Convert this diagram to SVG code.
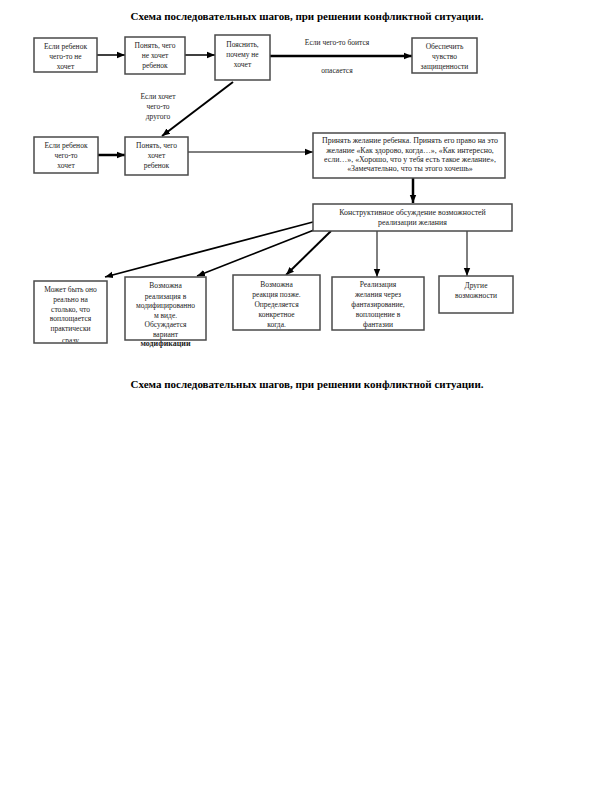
<svg xmlns="http://www.w3.org/2000/svg" width="612" height="792" viewBox="0 0 612 792">
<style>
.box{fill:#fff;stroke:#4a4a4a;stroke-width:1.5}
.t{font-family:"Liberation Serif","Times New Roman",serif;font-size:7.5px;fill:#222;text-anchor:middle}
.w{font-size:7.9px}
.title{font-family:"Liberation Serif","Times New Roman",serif;font-size:11px;font-weight:bold;fill:#000;text-anchor:middle}
.c{stroke:#000;fill:none}
</style>
<defs>
<marker id="ah" markerUnits="userSpaceOnUse" markerWidth="8" markerHeight="8" viewBox="0 0 8 8" refX="8" refY="4" orient="auto">
<path d="M0,0.8 L8,4 L0,7.2 Z" fill="#000"/>
</marker>
<clipPath id="cb1"><rect x="34" y="281" width="73" height="61"/></clipPath>
</defs>
<rect width="612" height="792" fill="#fff"/>
<text class="title" x="307" y="20">Схема последовательных  шагов, при решении конфликтной ситуации.</text>
<text class="title" x="307" y="388">Схема последовательных  шагов, при решении конфликтной ситуации.</text>

<g id="connectors">
<line class="c" x1="97" y1="55" x2="125" y2="55" stroke-width="1.5" marker-end="url(#ah)"/>
<line class="c" x1="185" y1="55" x2="215" y2="55" stroke-width="1.5" marker-end="url(#ah)"/>
<line class="c" x1="270" y1="56" x2="412" y2="56" stroke-width="2.5" marker-end="url(#ah)"/>
<line class="c" x1="233" y1="82" x2="162" y2="136" stroke-width="2" marker-end="url(#ah)"/>
<line class="c" x1="98" y1="155" x2="125" y2="155" stroke-width="2.5" marker-end="url(#ah)"/>
<line class="c" x1="188" y1="152" x2="313" y2="152" stroke-width="1" marker-end="url(#ah)"/>
<line class="c" x1="413" y1="178" x2="413" y2="203" stroke-width="2.5" marker-end="url(#ah)"/>
<line class="c" x1="313" y1="222" x2="105" y2="277" stroke-width="1.8" marker-end="url(#ah)"/>
<line class="c" x1="314" y1="230" x2="197" y2="276" stroke-width="1.6" marker-end="url(#ah)"/>
<line class="c" x1="331" y1="231" x2="286" y2="275" stroke-width="2" marker-end="url(#ah)"/>
<line class="c" x1="377" y1="231" x2="377" y2="277" stroke-width="1" marker-end="url(#ah)"/>
<line class="c" x1="467" y1="231" x2="467" y2="276" stroke-width="1" marker-end="url(#ah)"/>
<text class="t" x="337" y="45">Если чего-то боится</text>
<text class="t" x="337" y="73">опасается</text>
<text class="t" x="158" y="99">Если хочет</text>
<text class="t" x="158" y="109">чего-то</text>
<text class="t" x="158" y="119">другого</text>
</g>

<g id="n1"><rect class="box" x="34" y="38" width="63" height="34"/>
<text class="t" x="65.5" y="49">Если ребенок</text><text class="t" x="65.5" y="59">чего-то не</text><text class="t" x="65.5" y="69">хочет</text></g>
<g id="n2"><rect class="box" x="125" y="37" width="60" height="37"/>
<text class="t" x="155" y="48">Понять, чего</text><text class="t" x="155" y="58">не хочет</text><text class="t" x="155" y="68">ребенок</text></g>
<g id="n3"><rect class="box" x="215" y="35" width="55" height="45"/>
<text class="t" x="242.5" y="47">Пояснить,</text><text class="t" x="242.5" y="57">почему не</text><text class="t" x="242.5" y="67">хочет</text></g>
<g id="n4"><rect class="box" x="412" y="38" width="65" height="35"/>
<text class="t" x="444.5" y="49">Обеспечить</text><text class="t" x="444.5" y="59">чувство</text><text class="t" x="444.5" y="69">защищенности</text></g>

<g id="n5"><rect class="box" x="34" y="137" width="64" height="36"/>
<text class="t" x="66" y="148">Если ребенок</text><text class="t" x="66" y="158">чего-то</text><text class="t" x="66" y="168">хочет</text></g>
<g id="n6"><rect class="box" x="125" y="137" width="63" height="38"/>
<text class="t" x="156.5" y="148">Понять, чего</text><text class="t" x="156.5" y="158">хочет</text><text class="t" x="156.5" y="168">ребенок</text></g>
<g id="n7"><rect class="box" x="313" y="133" width="192" height="45"/>
<text class="t w" x="410" y="143">Принять желание ребенка. Принять его право на это</text>
<text class="t w" x="410" y="153">желание «Как здорово, когда…», «Как интересно,</text>
<text class="t w" x="410" y="162">если…», «Хорошо, что у тебя есть такое желание»,</text>
<text class="t w" x="410" y="171">«Замечательно, что ты этого хочешь»</text></g>
<g id="n8"><rect class="box" x="313" y="204" width="199" height="27"/>
<text class="t w" x="412.5" y="215">Конструктивное обсуждение возможностей</text>
<text class="t w" x="412.5" y="225">реализации желания</text></g>

<g id="n9"><rect class="box" x="34" y="281" width="73" height="62"/>
<g clip-path="url(#cb1)">
<text class="t" x="70.5" y="292">Может быть оно</text><text class="t" x="70.5" y="302">реально на</text><text class="t" x="70.5" y="312">столько, что</text><text class="t" x="70.5" y="321">воплощается</text><text class="t" x="70.5" y="331">практически</text><text class="t" x="70.5" y="343">сразу</text></g></g>
<g id="n10"><rect class="box" x="125" y="277" width="81" height="63"/>
<text class="t" x="165.5" y="288">Возможна</text><text class="t" x="165.5" y="299">реализация в</text><text class="t" x="165.5" y="308">модифицированно</text><text class="t" x="165.5" y="318">м виде.</text><text class="t" x="165.5" y="327">Обсуждается</text><text class="t" x="165.5" y="337">вариант</text>
<text class="t" x="165.5" y="346" font-weight="bold" textLength="50" lengthAdjust="spacingAndGlyphs">модификации</text></g>
<g id="n11"><rect class="box" x="233" y="275" width="87" height="55"/>
<text class="t" x="276.5" y="287">Возможна</text><text class="t" x="276.5" y="297">реакция позже.</text><text class="t" x="276.5" y="307">Определяется</text><text class="t" x="276.5" y="317">конкретное</text><text class="t" x="276.5" y="327">когда.</text></g>
<g id="n12"><rect class="box" x="332" y="277" width="92" height="53"/>
<text class="t" x="378" y="287">Реализация</text><text class="t" x="378" y="297">желания через</text><text class="t" x="378" y="307">фантазирование,</text><text class="t" x="378" y="317">воплощение в</text><text class="t" x="378" y="327">фантазии</text></g>
<g id="n13"><rect class="box" x="439" y="276" width="74" height="37"/>
<text class="t" x="476" y="288">Другие</text><text class="t" x="476" y="298">возможности</text></g>
</svg>
